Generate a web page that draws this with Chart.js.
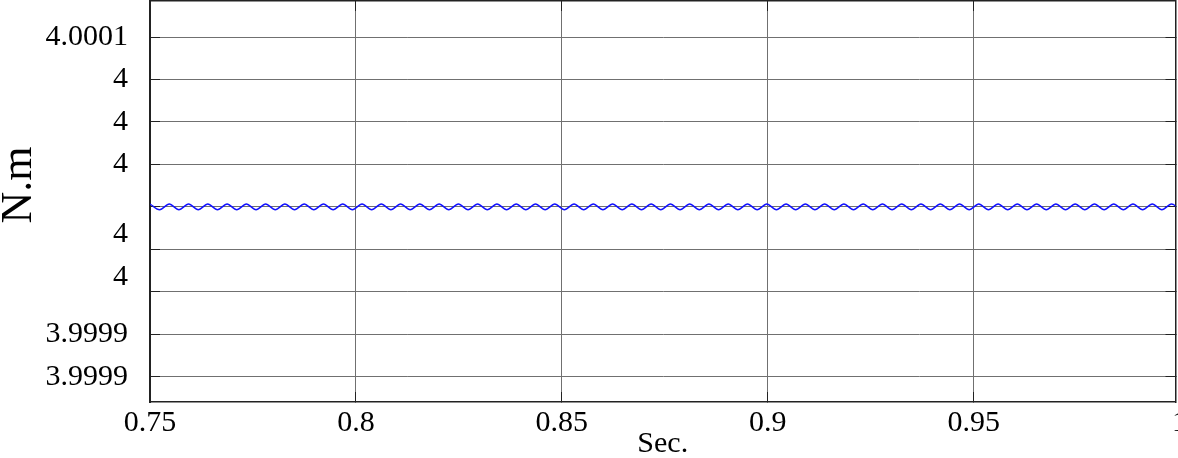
<!DOCTYPE html>
<html lang="en">
<head>
  <meta charset="UTF-8">
  <title>Torque</title>
  <style>
    body {
      margin: 0;
      padding: 0;
      background: #fff;
      overflow: hidden;
    }

    #wrap {
      position: relative;
      width: 1178px;
      height: 458px;
    }
  </style>
</head>
<body>
  <div id="wrap">
    <canvas id="torqueChart"></canvas>
  </div>

  <script src="https://cdn.jsdelivr.net/npm/chart.js"></script>
  <script>
    // time samples (s), one per crest / trough of the ripple
    const tSec = [
      0.75000, 0.75234, 0.75468, 0.75702, 0.75936, 0.76170, 0.76404, 0.76638, 0.76872, 0.77106,
      0.77340, 0.77574, 0.77808, 0.78042, 0.78276, 0.78510, 0.78744, 0.78978, 0.79212, 0.79446,
      0.79680, 0.79914, 0.80148, 0.80382, 0.80616, 0.80850, 0.81084, 0.81318, 0.81552, 0.81786,
      0.82020, 0.82254, 0.82488, 0.82722, 0.82956, 0.83190, 0.83424, 0.83658, 0.83892, 0.84126,
      0.84360, 0.84594, 0.84828, 0.85062, 0.85296, 0.85530, 0.85764, 0.85998, 0.86232, 0.86466,
      0.86700, 0.86934, 0.87168, 0.87402, 0.87636, 0.87870, 0.88104, 0.88338, 0.88572, 0.88806,
      0.89040, 0.89274, 0.89508, 0.89742, 0.89976, 0.90210, 0.90444, 0.90678, 0.90912, 0.91146,
      0.91380, 0.91614, 0.91848, 0.92082, 0.92316, 0.92550, 0.92784, 0.93018, 0.93252, 0.93486,
      0.93720, 0.93954, 0.94188, 0.94422, 0.94656, 0.94890, 0.95124, 0.95358, 0.95592, 0.95826,
      0.96060, 0.96294, 0.96528, 0.96762, 0.96996, 0.97230, 0.97464, 0.97698, 0.97932, 0.98166,
      0.98400, 0.98634, 0.98868, 0.99102, 0.99336, 0.99570, 0.99804, 1.00000
    ];

    // torque (N.m)
    const torque = [
      3.999993, 3.999991, 3.999993, 3.999991, 3.999993, 3.999991, 3.999993, 3.999991, 3.999993, 3.999991,
      3.999993, 3.999991, 3.999993, 3.999991, 3.999993, 3.999991, 3.999993, 3.999991, 3.999993, 3.999991,
      3.999993, 3.999991, 3.999993, 3.999991, 3.999993, 3.999991, 3.999993, 3.999991, 3.999993, 3.999991,
      3.999993, 3.999991, 3.999993, 3.999991, 3.999993, 3.999991, 3.999993, 3.999991, 3.999993, 3.999991,
      3.999993, 3.999991, 3.999993, 3.999991, 3.999993, 3.999991, 3.999993, 3.999991, 3.999993, 3.999991,
      3.999993, 3.999991, 3.999993, 3.999991, 3.999993, 3.999991, 3.999993, 3.999991, 3.999993, 3.999991,
      3.999993, 3.999991, 3.999993, 3.999991, 3.999993, 3.999991, 3.999993, 3.999991, 3.999993, 3.999991,
      3.999993, 3.999991, 3.999993, 3.999991, 3.999993, 3.999991, 3.999993, 3.999991, 3.999993, 3.999991,
      3.999993, 3.999991, 3.999993, 3.999991, 3.999993, 3.999991, 3.999993, 3.999991, 3.999993, 3.999991,
      3.999993, 3.999991, 3.999993, 3.999991, 3.999993, 3.999991, 3.999993, 3.999991, 3.999993, 3.999991,
      3.999993, 3.999991, 3.999993, 3.999991, 3.999993, 3.999991, 3.999993, 3.9999912
    ];

    const xTicks = [0.75, 0.8, 0.85, 0.9, 0.95, 1];
    const xTickLabels = ['0.75', '0.8', '0.85', '0.9', '0.95', '1'];

    const yTicks = [4.000052, 4.000037, 4.000022, 4.000007, 3.999992, 3.999977, 3.999962, 3.999947, 3.999932];
    // a trailing empty line lifts a label half a line above its tick
    const yTickLabels = ['4.0001', '4', '4', '4', '', ['4', ''], ['4', ''], '3.9999', '3.9999'];

    // visible window: the frame stops a hair before t = 1
    const X_MIN = 0.75, X_MAX = 0.999;
    const Y_MIN = 3.99992306, Y_MAX = 4.00006472;

    const serif = "'Liberation Serif', 'Times New Roman', serif";
    const axisColor = '#222';

    // dotted grid with short solid ticks pointing into the plot (matlab look)
    const gridOpts = {
      color: '#707070',
      lineWidth: 1,
      borderDash: [1, 1],
      drawTicks: true,
      tickLength: -10,
      tickColor: axisColor,
      tickWidth: 1,
      tickBorderDash: []
    };

    function fixSize(prop, size) {
      return (scale) => {
        scale[prop] = size;
        scale.paddingLeft = 0;
        scale.paddingRight = 0;
        scale.paddingTop = 0;
        scale.paddingBottom = 0;
      };
    }

    const setTicks = (values) => (axis) => {
      axis.ticks = values.map(v => ({ value: v }));
    };

    const points = tSec.map((t, i) => ({ x: t, y: torque[i] }));

    new Chart(document.getElementById('torqueChart'), {
      type: 'line',
      data: {
        datasets: [{
          data: points,
          borderColor: '#1010ff',
          borderWidth: 1.4,
          pointRadius: 0,
          cubicInterpolationMode: 'monotone',
          fill: false
        }]
      },
      options: {
        responsive: true,
        maintainAspectRatio: false,
        animation: false,
        layout: { padding: 0 },
        plugins: {
          legend: { display: false },
          tooltip: { enabled: false }
        },
        scales: {
          x: {
            type: 'linear',
            position: 'bottom',
            min: X_MIN,
            max: X_MAX,
            afterBuildTicks: setTicks(xTicks),
            afterFit: fixSize('height', 56),
            grid: gridOpts,
            border: { display: true, color: axisColor, width: 1.5 },
            ticks: {
              color: '#000',
              padding: 16,
              maxRotation: 0,
              autoSkip: false,
              font: { family: serif, size: 30, lineHeight: 1 },
              callback: (v, i) => xTickLabels[i]
            },
            title: {
              display: true,
              text: 'Sec.',
              color: '#000',
              padding: { top: 0, bottom: -1 },
              font: { family: serif, size: 30, lineHeight: 1 }
            }
          },
          xTop: {
            type: 'linear',
            position: 'top',
            min: X_MIN,
            max: X_MAX,
            afterBuildTicks: setTicks(xTicks),
            afterFit: fixSize('height', 1),
            grid: { ...gridOpts, drawOnChartArea: false },
            border: { display: true, color: axisColor, width: 1.5 },
            ticks: { display: false }
          },
          y: {
            type: 'linear',
            position: 'left',
            min: Y_MIN,
            max: Y_MAX,
            afterBuildTicks: setTicks(yTicks),
            afterFit: fixSize('width', 150),
            grid: gridOpts,
            border: { display: true, color: axisColor, width: 2 },
            ticks: {
              color: '#000',
              padding: 32,
              autoSkip: false,
              font: { family: serif, size: 30, lineHeight: 1 },
              callback: (v, i) => yTickLabels[i]
            },
            title: {
              display: true,
              // leading spaces nudge the rotated title up a little
              text: '   N.m',
              color: '#000',
              padding: { top: -3, bottom: 0 },
              font: { family: serif, size: 44, lineHeight: 1 }
            }
          },
          yRight: {
            type: 'linear',
            position: 'right',
            min: Y_MIN,
            max: Y_MAX,
            afterBuildTicks: setTicks(yTicks),
            afterFit: fixSize('width', 2.5),
            grid: { ...gridOpts, drawOnChartArea: false },
            border: { display: true, color: axisColor, width: 1.5 },
            ticks: { display: false }
          }
        }
      }
    });
  </script>
</body>
</html>
